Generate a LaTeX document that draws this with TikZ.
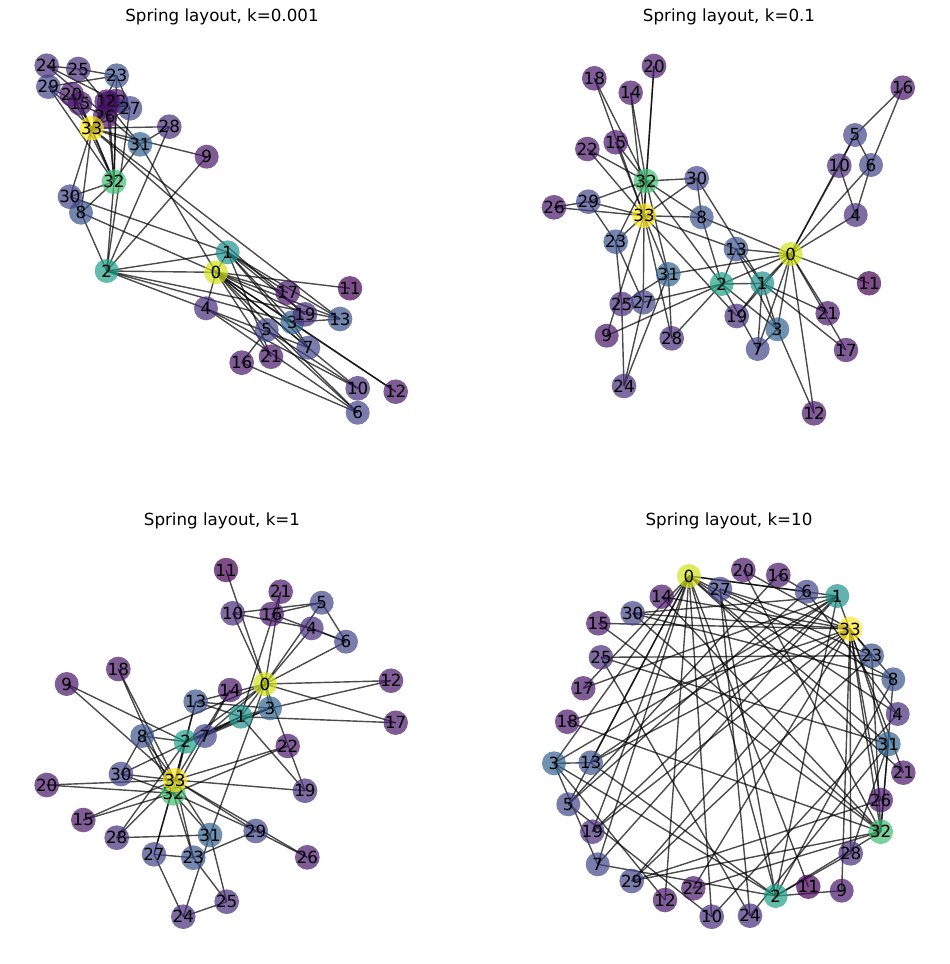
\documentclass[tikz,border=0pt]{standalone}
\usepackage{fontspec}
\setmainfont{DejaVu Sans}
\usepackage{tikz}
\usepackage{xcolor}
\usetikzlibrary{
    backgrounds,
    positioning
}

\definecolor{deg1}{RGB}{68,1,84}
\definecolor{deg2}{RGB}{72,23,105}
\definecolor{deg3}{RGB}{71,44,122}
\definecolor{deg4}{RGB}{65,68,135}
\definecolor{deg5}{RGB}{59,82,139}
\definecolor{deg6}{RGB}{51,99,141}
\definecolor{deg9}{RGB}{33,145,140}
\definecolor{deg10}{RGB}{31,160,136}
\definecolor{deg12}{RGB}{64,189,114}
\definecolor{deg16}{RGB}{210,226,27}
\definecolor{deg17}{RGB}{253,231,37}

\def\degs{{16,9,10,6,3,4,4,4,5,2,3,1,2,5,2,2,2,2,2,3,2,2,2,5,3,3,2,4,3,4,4,6,12,17}}
\def\clubedges{0/1,0/2,0/3,0/4,0/5,0/6,0/7,0/8,0/10,0/11,0/12,0/13,0/17,0/19,0/21,0/31,
    1/2,1/3,1/7,1/13,1/17,1/19,1/21,1/30,2/3,2/7,2/8,2/9,2/13,2/27,2/28,2/32,
    3/7,3/12,3/13,4/6,4/10,5/6,5/10,5/16,6/16,8/30,8/32,8/33,
    9/33,13/33,14/32,14/33,15/32,15/33,18/32,18/33,19/33,20/32,20/33,22/32,22/33,
    23/25,23/27,23/29,23/32,23/33,24/25,24/27,24/31,
    25/31,26/29,26/33,27/33,28/31,28/33,29/32,29/33,30/32,30/33,31/32,31/33,32/33}

\tikzset{
    member/.style={circle, minimum size=0.48cm, inner sep=0pt, fill opacity=0.7,
        text opacity=1, text=black, font=\fontsize{9.5}{11}\selectfont},
    tie/.style={draw=black, draw opacity=0.7, line width=0.8pt},
    panel title/.style={font=\fontsize{9.5}{11}\selectfont}
}

\begin{document}
\begin{tikzpicture}[x=0.02cm, y=-0.02cm]
                        \useasboundingbox (0,0) rectangle (950,964);

                        \node[panel title] (ta) at (222,17) {Spring layout, k=0.001};
                        \node[panel title] (tb) at (729,17) {Spring layout, k=0.1};
                        \node[panel title] (tc) at (222,521) {Spring layout, k=1};
                        \node[panel title] (td) at (729,521) {Spring layout, k=10};

                        \foreach \i/\x/\y in {0/216/272.3, 1/227.7/252.3, 2/106.7/271, 3/292.3/322.3,
                            4/206/308.3, 5/266.7/330, 6/357.7/412.7, 7/308.3/347.7, 8/81/212.7,
                            9/206.7/156.7, 10/357.7/388.3, 11/350/288.3, 12/395.7/391.7, 13/340/319,
                            14/109/103, 15/80/103.3, 16/241.7/362.7, 17/287.7/292.7, 18/106.7/101.7,
                            19/305/314.3, 20/71.7/94.3, 21/271/356.7, 22/116/101, 23/116.7/75.7,
                            24/46.7/65.7, 25/78.3/69, 26/105/116.7, 27/130/108.3, 28/169.3/126.7,
                            29/48.3/86.7, 30/70/196.7, 31/140/144.3, 32/114/181.7, 33/91.7/128.3}{
                            \pgfmathtruncatemacro\d{\degs[\i]}
                            \node[member, fill=deg\d] (a\i) at (\x,\y) {\i};
                        }

                        \foreach \i/\x/\y in {0/790.7/254, 1/762.3/283.3, 2/721.7/284, 3/777.3/329.3,
                            4/855.7/215, 5/855/135, 6/871/165, 7/757.7/349, 8/701.7/217.3,
                            9/606.7/335.7, 10/839.3/165.7, 11/869/283.3, 12/814/413.3, 13/736/249,
                            14/630.7/92.7, 15/615.7/142.3, 16/902.7/87.7, 17/846/350, 18/594.3/78.3,
                            19/736.7/316, 20/654/66, 21/827.7/313.3, 22/587.3/149, 23/615.7/241.7,
                            24/624/386, 25/621.7/304, 26/554/207.3, 27/643.3/302.3, 28/671.7/338.3,
                            29/588.3/201.7, 30/696.7/178.3, 31/668.3/274.3, 32/646/181, 33/644/215.7}{
                            \pgfmathtruncatemacro\d{\degs[\i]}
                            \node[member, fill=deg\d] (b\i) at (\x,\y) {\i};
                        }

                        \foreach \i/\x/\y in {0/265/684, 1/240.7/716.7, 2/185.7/741.7, 3/270/708.3,
                            4/311.7/628.3, 5/321.7/602.7, 6/346/641.7, 7/205/736, 8/142.3/736,
                            9/66.7/684, 10/232.7/613.3, 11/226/570, 12/391/680.7, 13/195.7/701.7,
                            14/230/690, 15/83.3/820, 16/271.7/614, 17/395.7/722.7, 18/118.3/669,
                            19/305/790.7, 20/46.7/785, 21/280.7/591.7, 22/287.7/746, 23/193.3/857.7,
                            24/183.3/916.7, 25/226.7/901.7, 26/307.3/857.3, 27/154/854.3, 28/116.7/837.7,
                            29/255.7/831, 30/121/774, 31/210/835, 32/173.3/793.3, 33/175/780}{
                            \pgfmathtruncatemacro\d{\degs[\i]}
                            \node[member, fill=deg\d] (c\i) at (\x,\y) {\i};
                        }

                        \foreach \i/\x/\y in {0/689/576, 1/837.3/596, 2/775.7/896, 3/554/763.3,
                            4/897.7/714, 5/568.3/804.3, 6/806.7/591.7, 7/597.7/864.3, 8/893.3/679.3,
                            9/841.7/890.7, 10/711.7/916.7, 11/808.3/886.7, 12/665/900, 13/590.7/762.7,
                            14/661.7/596.7, 15/598.3/623.3, 16/778.3/575, 17/583.3/688.3, 18/567.3/721.7,
                            19/592.3/831.7, 20/743.3/570, 21/903.3/772.7, 22/693.3/888.3, 23/871.7/655.7,
                            24/750/915.7, 25/601/657.3, 26/880.7/800, 27/720/589, 28/850.7/853.3,
                            29/631.7/881, 30/632.7/613.3, 31/888.3/744, 32/880.7/831.7, 33/850/629}{
                            \pgfmathtruncatemacro\d{\degs[\i]}
                            \node[member, fill=deg\d] (d\i) at (\x,\y) {\i};
                        }

                        \begin{pgfonlayer}{background}
                            \foreach \p in {a,b,c,d}{
                                \foreach \u/\v in \clubedges
                                    \draw[tie] (\p\u.center) -- (\p\v.center);
                            }
                        \end{pgfonlayer}
                    \end{tikzpicture}
\end{document}
